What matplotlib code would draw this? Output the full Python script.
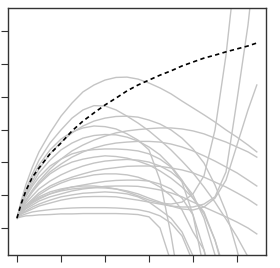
import numpy as np
import matplotlib
matplotlib.use("Agg")
import matplotlib.pyplot as plt

# shared x grid (tick units: 0..5)
X = [0, 0.04, 0.1, 0.2, 0.35, 0.5, 0.75, 1.0, 1.25, 1.5, 1.75, 2.0, 2.25, 2.5, 2.75,
     3.0, 3.25, 3.5, 3.75, 4.0, 4.25, 4.5, 4.75, 5.0, 5.25, 5.45]

# dashed reference curve
truth = [0.30, 0.49, 0.76, 1.13, 1.55, 1.83, 2.26, 2.59, 2.96, 3.26, 3.51, 3.75, 3.96,
         4.18, 4.36, 4.51, 4.66, 4.79, 4.94, 5.06, 5.18, 5.27, 5.37, 5.46, 5.55, 5.64]

# grey fitted curves (a list stops once its curve has left the frame)
c1 = [0.30, 0.52, 0.85, 1.31, 1.86, 2.32, 2.90, 3.41, 3.81, 4.15, 4.36, 4.51, 4.59,
      4.60, 4.54, 4.42, 4.27, 4.09, 3.87, 3.66, 3.45, 3.23, 2.99, 2.77, 2.53, 2.32]
c2 = [0.30, 0.49, 0.76, 1.16, 1.65, 2.07, 2.59, 2.99, 3.35, 3.60, 3.73, 3.72, 3.60,
      3.41, 3.20, 2.96, 2.68, 2.38, 2.04, 1.68, 1.25, 0.79, 0.27, -0.27, -0.88]
c3 = [0.30, 0.46, 0.70, 1.04, 1.43, 1.80, 2.26, 2.62, 2.90, 3.11, 3.26, 3.35, 3.40,
      3.41, 3.38, 3.29, 3.17, 2.99, 2.74, 2.41, 1.98, 1.31, 0.49, -0.67, -2.04]
c4 = [0.30, 0.43, 0.61, 0.85, 1.16, 1.43, 1.80, 2.10, 2.35, 2.53, 2.68, 2.80, 2.90,
      2.96, 3.00, 3.03, 3.05, 3.05, 3.02, 2.96, 2.87, 2.74, 2.62, 2.47, 2.32, 2.16]
c5 = [0.30, 0.46, 0.67, 0.98, 1.34, 1.68, 2.07, 2.38, 2.59, 2.74, 2.82, 2.85, 2.84,
      2.77, 2.65, 2.47, 2.23, 1.89, 1.46, 0.91, 0.43, -0.37, -1.43]
c6 = [0.30, 0.43, 0.61, 0.85, 1.13, 1.37, 1.71, 1.95, 2.16, 2.32, 2.44, 2.53, 2.59,
      2.62, 2.64, 2.64, 2.62, 2.56, 2.47, 2.35, 2.20, 2.04, 1.86, 1.68, 1.46, 1.28]
c7 = [0.30, 0.43, 0.61, 0.82, 1.10, 1.34, 1.65, 1.86, 2.01, 2.10, 2.16, 2.20, 2.18,
      2.13, 2.04, 1.92, 1.74, 1.52, 1.25, 0.91, 0.49, -0.37, -1.59]
c8 = [0.30, 0.40, 0.55, 0.76, 0.98, 1.19, 1.43, 1.62, 1.77, 1.89, 1.98, 2.04, 2.07,
      2.09, 2.07, 2.01, 1.89, 1.71, 1.43, 1.01, 0.30, -0.82]
c9 = [0.30, 0.40, 0.52, 0.70, 0.88, 1.07, 1.28, 1.43, 1.55, 1.65, 1.74, 1.80, 1.84,
      1.88, 1.89, 1.89, 1.88, 1.83, 1.77, 1.68, 1.55, 1.40, 1.25, 1.07, 0.88, 0.70]
c10 = [0.30, 0.40, 0.52, 0.67, 0.85, 1.01, 1.22, 1.37, 1.49, 1.55, 1.62, 1.65, 1.65,
       1.62, 1.55, 1.43, 1.25, 0.98, 0.55, -0.12, -0.67, -1.89]
c11 = [0.30, 0.37, 0.49, 0.61, 0.76, 0.88, 1.04, 1.16, 1.25, 1.31, 1.37, 1.42, 1.45,
       1.46, 1.46, 1.43, 1.34, 1.19, 0.91, 0.40, -0.67, -2.20]
c12 = [0.30, 0.37, 0.46, 0.58, 0.70, 0.82, 0.95, 1.04, 1.13, 1.19, 1.23, 1.27, 1.28,
       1.28, 1.27, 1.22, 1.16, 1.07, 0.95, 0.79, 0.64, 0.49, 0.34, 0.18, 0.00, -0.18]
c13 = [0.30, 0.37, 0.43, 0.52, 0.64, 0.73, 0.85, 0.95, 1.01, 1.06, 1.08, 1.10, 1.08,
       1.04, 0.95, 0.79, 0.55, 0.30, -0.12, -0.85, -1.89]
c14 = [0.30, 0.40, 0.52, 0.67, 0.82, 0.95, 1.10, 1.19, 1.25, 1.28, 1.28, 1.25, 1.19,
       1.10, 0.98, 0.85, 0.76, 0.73, 0.79, 1.04, 1.59, 2.99, 5.27, 8.32]
c15 = [0.30, 0.37, 0.43, 0.49, 0.58, 0.67, 0.76, 0.85, 0.91, 0.95, 0.96, 0.96, 0.95,
       0.90, 0.85, 0.79, 0.73, 0.67, 0.64, 0.64, 0.73, 0.95, 1.71, 3.90, 6.19, 8.63]
c16 = [0.30, 0.40, 0.52, 0.67, 0.79, 0.91, 1.04, 1.13, 1.19, 1.22, 1.23, 1.22, 1.19,
       1.13, 1.04, 0.91, 0.79, 0.67, 0.58, 0.55, 0.64, 0.91, 1.46, 2.53, 3.60, 4.36]
c17 = [0.30, 0.32, 0.34, 0.37, 0.38, 0.40, 0.41, 0.43, 0.43, 0.44, 0.44, 0.44, 0.44,
       0.43, 0.41, 0.34, 0.00, -1.04]
c18 = [0.30, 0.34, 0.38, 0.43, 0.49, 0.52, 0.56, 0.59, 0.61, 0.62, 0.62, 0.62, 0.61,
       0.59, 0.56, 0.49, 0.37, 0.15, -0.24, -1.04]
c19 = [0.30, 0.49, 0.76, 1.13, 1.55, 1.92, 2.38, 2.71, 2.93, 3.05, 3.11, 3.09, 3.02,
       2.87, 2.68, 2.38, 1.46, -0.21, -2.20]
c20 = [0.30, 0.46, 0.67, 0.95, 1.28, 1.55, 1.89, 2.10, 2.26, 2.35, 2.39, 2.41, 2.41,
       2.39, 2.35, 2.26, 2.10, 1.86, 1.40, 0.40, -1.28]

fits = [c1, c2, c3, c4, c5, c6, c7, c8, c9, c10, c11, c12, c13, c14, c15, c16, c17, c18, c19, c20]

xticks = [0, 1, 2, 3, 4, 5]
yticks = [0, 1, 2, 3, 4, 5, 6]

fig = plt.figure(figsize=(2.8, 2.68), dpi=100)
ax = fig.add_axes([8/280, 13/268, 258/280, 247/268])

for yy in fits:
    ax.plot(X[:len(yy)], yy, color='#c4c4c4', lw=1.0)
ax.plot(X, truth, color='black', lw=1.2, dashes=(2.6, 2.0))

ax.set_xlim(-0.2045, 5.659)
ax.set_ylim(-0.823, 6.707)
ax.set_xticks(xticks)
ax.set_yticks(yticks)
ax.set_xticklabels([])
ax.set_yticklabels([])
ax.tick_params(direction='out', length=5, width=0.8, color='#333333')
for s in ax.spines.values():
    s.set_color('#333333')
    s.set_linewidth(1.0)

fig.savefig('out.png', dpi=100)
